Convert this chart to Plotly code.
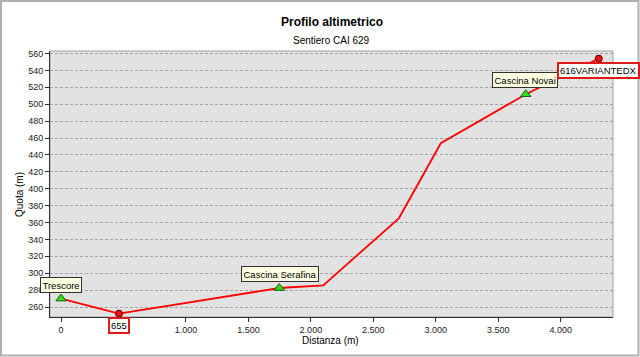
import plotly.graph_objects as go

# Data
dist = [0, 464, 1747, 2099, 2704, 3040, 3720, 4304]
quota = [270, 252.2, 282.5, 285.7, 365, 453.8, 511.8, 554]

wp_green_x = [0, 1747, 3720]
wp_green_y = [270, 282.5, 511.8]
wp_green_names = ["Trescore", "Cascina Serafina", "Cascina Novai"]

wp_red_x = [464, 4304]
wp_red_y = [252.2, 554]
wp_red_names = ["655", "616VARIANTEDX"]

x_ticks = [0, 1000, 1500, 2000, 2500, 3000, 3500, 4000]
y_ticks = list(range(260, 561, 20))

title = "Profilo altimetrico"
subtitle = "Sentiero CAI 629"
x_title = "Distanza (m)"
y_title = "Quota (m)"

W, H = 640, 357
ML, MR, MT, MB = 50, 27, 51, 40
PW, PH = W - ML - MR, H - MT - MB

fig = go.Figure()
fig.add_trace(go.Scatter(x=dist, y=quota, mode="lines",
                         line=dict(color="#ff0000", width=1.8), hoverinfo="skip", showlegend=False))
fig.add_trace(go.Scatter(x=wp_green_x, y=wp_green_y, mode="markers",
                         marker=dict(symbol="triangle-up", size=9, color="#33dd11",
                                     line=dict(color="#106010", width=1)),
                         showlegend=False, cliponaxis=False))
fig.add_trace(go.Scatter(x=wp_red_x, y=wp_red_y, mode="markers",
                         marker=dict(symbol="circle", size=7, color="#ee1111",
                                     line=dict(color="#600000", width=1)),
                         showlegend=False, cliponaxis=False))

font = "Liberation Sans, Arial, sans-serif"

green_off = [(0, -14), (1, -14), (-1, -14)]
for nm, x, y, (dx, dy) in zip(wp_green_names, wp_green_x, wp_green_y, green_off):
    fig.add_annotation(x=x, y=y, text=nm, showarrow=True, arrowcolor="rgba(0,0,0,0)",
                       ax=dx, ay=dy, xanchor="center", yanchor="middle",
                       bgcolor="#ffffe1", bordercolor="#303030", borderwidth=1, borderpad=1.5,
                       font=dict(family=font, size=9.5, color="#000"))

red_off = [(0, 12), (0, 12)]
for nm, x, y, (dx, dy) in zip(wp_red_names, wp_red_x, wp_red_y, red_off):
    fig.add_annotation(x=x, y=y, text=nm, showarrow=True, arrowcolor="rgba(0,0,0,0)",
                       ax=dx, ay=dy, xanchor="center", yanchor="middle",
                       bgcolor="#ffffff", bordercolor="#e01818", borderwidth=2, borderpad=1,
                       font=dict(family=font, size=9.5, color="#000"))

# Titles
fig.add_annotation(xref="paper", yref="paper", x=0.5, y=1 + (MT - 22) / PH, text="<b>" + title + "</b>",
                   showarrow=False, font=dict(family=font, size=12, color="#000"), yanchor="middle")
fig.add_annotation(xref="paper", yref="paper", x=0.5, y=1 + (MT - 40) / PH, text=subtitle,
                   showarrow=False, font=dict(family=font, size=10, color="#000"), yanchor="middle")
fig.add_annotation(xref="paper", yref="paper", x=(330 - ML) / PW, y=-(340 - (H - MB)) / PH, text=x_title,
                   showarrow=False, font=dict(family=font, size=10, color="#000"),
                   xanchor="center", yanchor="middle")
fig.add_annotation(xref="paper", yref="paper", x=(19 - ML) / PW, y=1 - (195 - MT) / PH, text=y_title,
                   showarrow=False, textangle=-90, font=dict(family=font, size=10, color="#000"),
                   xanchor="center", yanchor="middle")

# Outer border and plot frame
fig.add_shape(type="rect", xref="paper", yref="paper",
              x0=(1 - ML) / PW, x1=(W - 1.5 - ML) / PW,
              y0=1 - (H - 1.5 - MT) / PH, y1=1 - (1 - MT) / PH,
              line=dict(color="#b0b0b0", width=2), layer="below")
fig.add_shape(type="rect", xref="paper", yref="paper", x0=0, x1=1, y0=0, y1=1,
              line=dict(color="#a0a0a0", width=1), layer="below")

fig.update_layout(
    width=W, height=H, margin=dict(l=ML, r=MR, t=MT, b=MB),
    paper_bgcolor="#ffffff", plot_bgcolor="#e2e2e2",
    separators=",.",
    showlegend=False,
    font=dict(family=font, size=9, color="#000"),
    xaxis=dict(range=[-88, 4418], tickvals=x_ticks,
               tickformat=",d", showgrid=False, zeroline=False,
               showline=True, linecolor="#303030", linewidth=1,
               ticks="outside", ticklen=4, tickcolor="#303030",
               tickfont=dict(size=9, color="#222")),
    yaxis=dict(range=[248.2, 563], tickvals=y_ticks,
               showgrid=True, gridcolor="#a4a4a4", griddash="3px,2px", gridwidth=1,
               zeroline=False, showline=True, linecolor="#303030", linewidth=1,
               ticks="outside", ticklen=4, tickcolor="#303030",
               tickfont=dict(size=9, color="#222")),
)

fig.write_html("out.html")
